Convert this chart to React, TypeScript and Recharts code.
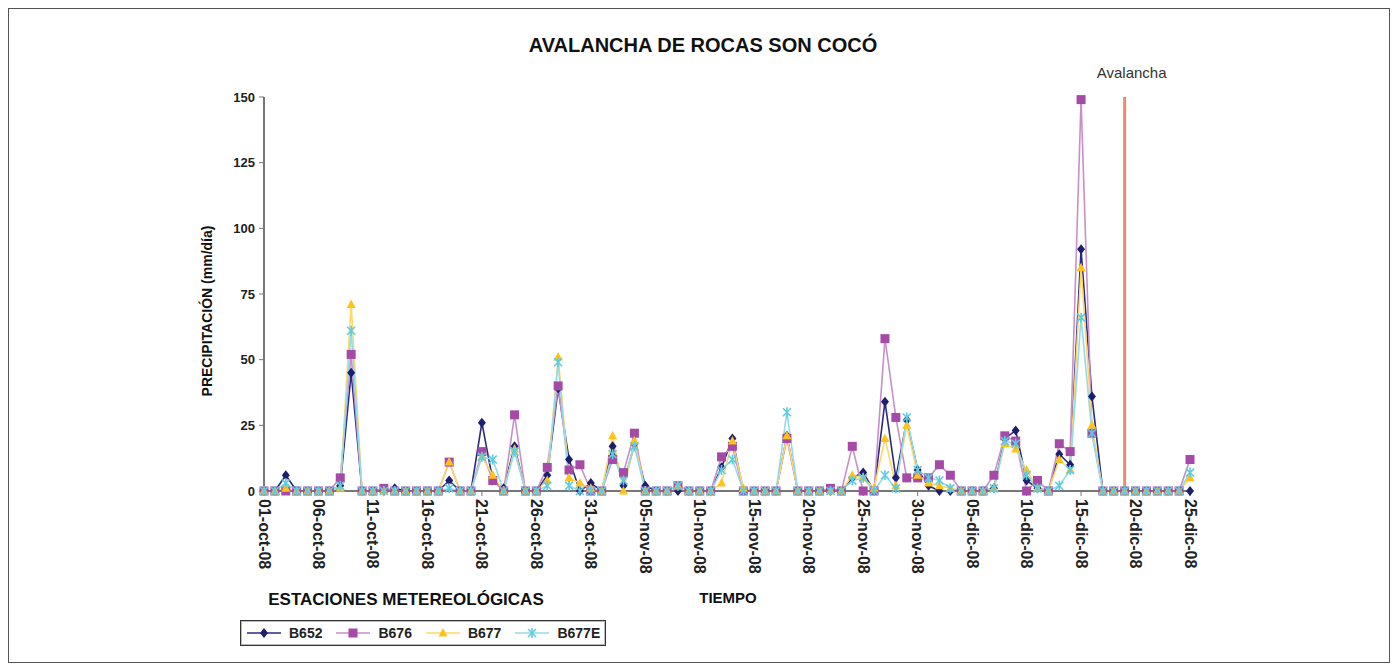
import { LineChart, Line, XAxis, YAxis, ReferenceLine } from "recharts"

// daily labels 01-oct-08 .. 25-dic-08
const MONTHS: [string, number][] = [
  ["oct", 31],
  ["nov", 30],
  ["dic", 25],
]
const DATES = MONTHS.flatMap(([m, n]) =>
  Array.from({ length: n }, (_, i) => `${String(i + 1).padStart(2, "0")}-${m}-08`)
)

const Y_TICKS = [0, 25, 50, 75, 100, 125, 150]
const AVALANCHA_DATE = "19-dic-08"

const B652 = [
  0, 0, 6, 0, 0, 0, 0, 2, 45, 0,
  0, 0, 1, 0, 0, 0, 0, 4, 0, 0,
  26, 4, 1, 17, 0, 0, 6, 39, 12, 0,
  3, 0, 17, 2, 18, 2, 0, 0, 0, 0,
  0, 0, 9, 20, 0, 0, 0, 0, 21, 0,
  0, 0, 0, 0, 5, 7, 0, 34, 5, 27,
  8, 2, 0, 0, 0, 0, 0, 1, 20, 23,
  4, 1, 0, 14, 10, 92, 36, 0, 0, 0,
  0, 0, 0, 0, 0, 0,
]
const B676 = [
  0, 0, 0, 0, 0, 0, 0, 5, 52, 0,
  0, 1, 0, 0, 0, 0, 0, 11, 0, 0,
  15, 4, 0, 29, 0, 0, 9, 40, 8, 10,
  0, 0, 12, 7, 22, 0, 0, 0, 2, 0,
  0, 0, 13, 17, 0, 0, 0, 0, 20, 0,
  0, 0, 1, 0, 17, 0, 0, 58, 28, 5,
  5, 5, 10, 6, 0, 0, 0, 6, 21, 19,
  0, 4, 0, 18, 15, 149, 22, 0, 0, 0,
  0, 0, 0, 0, 0, 12,
]
const B677 = [
  0, 0, 1, 0, 0, 0, 0, 1, 71, 0,
  0, 0, 0, 0, 0, 0, 0, 11, 0, 0,
  13, 6, 0, 16, 0, 0, 4, 51, 5, 3,
  1, 0, 21, 0, 19, 0, 0, 0, 2, 0,
  0, 0, 3, 19, 1, 0, 0, 0, 21, 0,
  0, 0, 0, 0, 6, 5, 1, 20, 2, 25,
  6, 3, 2, 1, 0, 0, 0, 1, 18, 16,
  8, 1, 0, 12, 8, 85, 25, 0, 0, 0,
  0, 0, 0, 0, 0, 5,
]
const B677E = [
  0, 0, 3, 0, 0, 0, 0, 2, 61, 0,
  0, 0, 0, 0, 0, 0, 0, 1, 0, 0,
  13, 12, 0, 15, 0, 0, 2, 49, 2, 0,
  0, 0, 14, 4, 17, 0, 0, 0, 2, 0,
  0, 0, 8, 12, 0, 0, 0, 0, 30, 0,
  0, 0, 0, 0, 4, 5, 0, 6, 1, 28,
  8, 5, 4, 1, 0, 0, 0, 1, 19, 18,
  6, 1, 0, 2, 8, 66, 22, 0, 0, 0,
  0, 0, 0, 0, 0, 7,
]

type Shape = "diamond" | "square" | "triangle" | "star"

const SERIES: { key: string; line: string; mark: string; shape: Shape }[] = [
  { key: "B652", line: "#2a2a80", mark: "#1e1e6e", shape: "diamond" },
  { key: "B676", line: "#c98fcc", mark: "#a64aa8", shape: "square" },
  { key: "B677", line: "#ffd866", mark: "#ffc21a", shape: "triangle" },
  { key: "B677E", line: "#93dbe9", mark: "#5fcbe0", shape: "star" },
]

const data = DATES.map((d, i) => ({
  date: d,
  B652: B652[i],
  B676: B676[i],
  B677: B677[i],
  B677E: B677E[i],
}))

const FONT = '"Liberation Sans", Arial, sans-serif'

function Marker({ cx, cy, shape, color }: { cx: number; cy: number; shape: Shape; color: string }) {
  if (cx == null || cy == null) return null
  if (shape === "diamond")
    return <path d={`M${cx},${cy - 5}L${cx + 4},${cy}L${cx},${cy + 5}L${cx - 4},${cy}Z`} fill={color} />
  if (shape === "square")
    return <rect x={cx - 4.5} y={cy - 4.5} width={9} height={9} fill={color} />
  if (shape === "triangle")
    return <path d={`M${cx},${cy - 5}L${cx + 4.5},${cy + 3.5}L${cx - 4.5},${cy + 3.5}Z`} fill={color} />
  return (
    <g stroke={color} strokeWidth={1.6}>
      <line x1={cx - 4} y1={cy - 4} x2={cx + 4} y2={cy + 4} />
      <line x1={cx - 4} y1={cy + 4} x2={cx + 4} y2={cy - 4} />
      <line x1={cx} y1={cy - 5} x2={cx} y2={cy + 5} />
    </g>
  )
}

function DateTick({ x, y, payload }: any) {
  const ty = y + 1
  return (
    <text
      x={x}
      y={ty}
      transform={`rotate(90, ${x}, ${ty})`}
      textAnchor="start"
      dominantBaseline="central"
      fontFamily={FONT}
      fontWeight="bold"
      fontSize={16}
      fill="#222"
    >
      {payload.value}
    </text>
  )
}

function AvalanchaLabel({ viewBox }: any) {
  return (
    <text
      x={viewBox.x + 7}
      y={viewBox.y - 19}
      textAnchor="middle"
      fontFamily={FONT}
      fontSize={15}
      fill="#333"
    >
      Avalancha
    </text>
  )
}

function LegendBox() {
  return (
    <div
      style={{
        position: "absolute",
        left: 231,
        top: 611,
        width: 366,
        display: "flex",
        alignItems: "center",
        height: 26,
        border: "1px solid #333",
        boxShadow: "inset 0 0 0 1px #bbb",
        fontFamily: FONT,
        fontWeight: "bold",
        fontSize: 14,
        color: "#222",
        paddingLeft: 6,
        boxSizing: "border-box",
      }}
    >
      {SERIES.map((s) => (
        <div key={s.key} style={{ display: "flex", alignItems: "center", marginRight: 14 }}>
          <svg width={34} height={14}>
            <line x1={0} y1={7} x2={34} y2={7} stroke={s.line} strokeWidth={1.6} />
            <Marker cx={17} cy={7} shape={s.shape} color={s.mark} />
          </svg>
          <span style={{ marginLeft: 8 }}>{s.key}</span>
        </div>
      ))}
    </div>
  )
}

function Txt({ cx, cy, size, bold, rotate, children }: any) {
  return (
    <div
      style={{
        position: "absolute",
        left: cx,
        top: cy,
        transform: `translate(-50%, -50%)${rotate ? ` rotate(${rotate}deg)` : ""}`,
        whiteSpace: "nowrap",
        fontFamily: FONT,
        fontSize: size,
        fontWeight: bold ? "bold" : "normal",
        color: "#111",
        lineHeight: 1,
      }}
    >
      {children}
    </div>
  )
}

export default function App() {
  return (
    <div
      style={{
        position: "relative",
        width: 1382,
        height: 655,
        border: "1px solid #555",
        boxSizing: "border-box",
        background: "#fff",
      }}
    >
      <Txt cx={694} cy={36} size={20} bold>
        AVALANCHA DE ROCAS SON COCÓ
      </Txt>
      <Txt cx={198} cy={302} size={14} bold rotate={-90}>
        PRECIPITACIÓN (mm/día)
      </Txt>
      <Txt cx={719} cy={588} size={15} bold>
        TIEMPO
      </Txt>
      <Txt cx={397} cy={590} size={17} bold>
        ESTACIONES METEREOLÓGICAS
      </Txt>
      <LineChart
        width={1380}
        height={653}
        data={data}
        margin={{ top: 88, right: 199, bottom: 81, left: 195 }}
        style={{ position: "absolute", left: 0, top: 0 }}
      >
        <XAxis
          dataKey="date"
          interval={4}
          tick={<DateTick />}
          tickSize={5}
          height={90}
          stroke="#777"
          strokeWidth={2}
          tickLine={{ stroke: "#777", strokeWidth: 1 }}
        />
        <YAxis
          domain={[0, 150]}
          ticks={Y_TICKS}
          width={60}
          tickSize={5}
          tickMargin={4}
          stroke="#777"
          strokeWidth={2}
          tickLine={{ stroke: "#777", strokeWidth: 1 }}
          tick={{ fontFamily: FONT, fontWeight: "bold", fontSize: 13, fill: "#222" }}
        />
        <ReferenceLine
          x={AVALANCHA_DATE}
          stroke="#f4886c"
          strokeWidth={3}
          label={<AvalanchaLabel />}
        />
        {SERIES.map((s) => (
          <Line
            key={s.key}
            dataKey={s.key}
            type="linear"
            stroke={s.line}
            strokeWidth={1.6}
            isAnimationActive={false}
            dot={(p: any) => (
              <Marker key={`${s.key}-${p.index}`} cx={p.cx} cy={p.cy} shape={s.shape} color={s.mark} />
            )}
            activeDot={false}
          />
        ))}
      </LineChart>
      <LegendBox />
    </div>
  )
}
